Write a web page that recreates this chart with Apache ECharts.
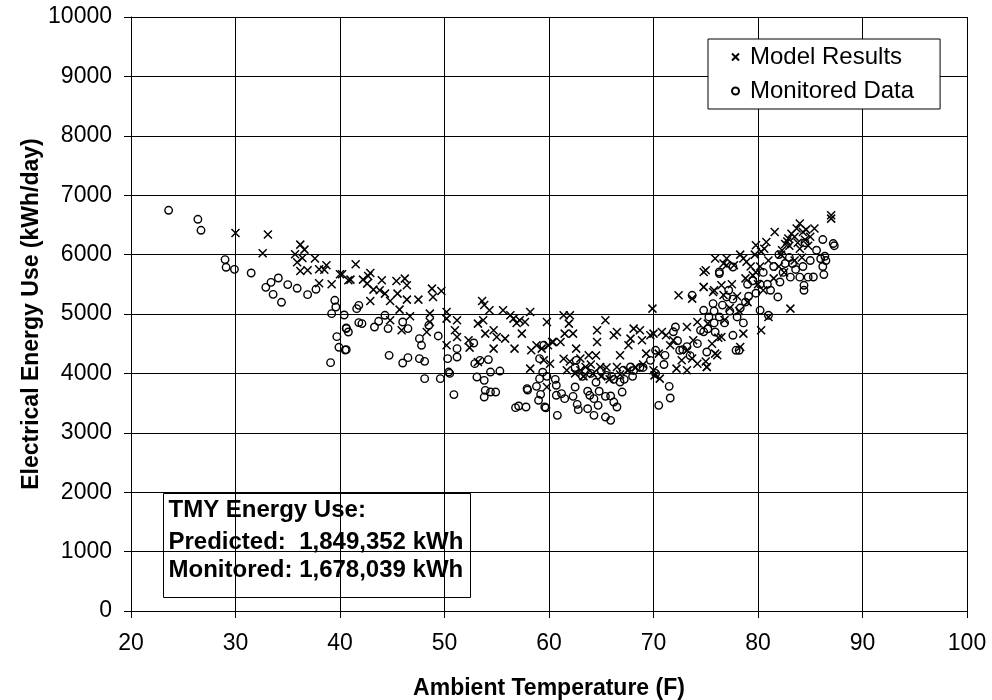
<!DOCTYPE html>
<html><head><meta charset="utf-8">
<script src="https://cdn.jsdelivr.net/npm/echarts@6/dist/echarts.min.js"></script>
<style>html,body{margin:0;padding:0;background:#fff;overflow:hidden}#c{width:992px;height:700px}</style>
</head><body><div id="c"></div>
<script>
var xTicks = [20,30,40,50,60,70,80,90,100];
var yTicks = [0,1000,2000,3000,4000,5000,6000,7000,8000,9000,10000];
var seriesNames = ['Model Results','Monitored Data'];
var noteLines = ['TMY Energy Use:','Predicted:  1,849,352 kWh','Monitored: 1,678,039 kWh'];

var modelResults = [
[30.0,6364],[33.1,6337],[32.6,6022],[36.2,6168],[36.6,6084],[35.7,6005],[36.4,5943],[35.9,5870],[37.6,5933],[36.2,5724],[36.9,5736],[38.0,5752],[38.7,5820],[38.5,5746],[38.0,5517],[39.2,5500],[40.0,5668],[40.8,5567],
[41.5,5837],[40.2,5668],[41.0,5579],[42.2,5579],[42.9,5690],[42.7,5640],[42.6,5511],[43.2,5410],[44.0,5567],[43.8,5399],[44.3,5343],[44.8,5219],[42.9,5219],[45.4,5556],[45.5,5343],[46.2,5596],[46.4,5483],[46.4,5242],[45.7,5074],[47.5,5242],[46.7,4961],[48.8,5427],[48.9,5286],[49.7,5387],[48.6,5006],[48.6,4865],[48.3,4697],[45.9,4725],[44.8,4894],[50.2,5034],[50.2,4922],[51.2,4894],[50.2,4473],[51.0,4725],[51.2,4612],[52.3,4557],[52.4,4434],[53.6,5219],[53.8,5150],[54.3,5062],[53.2,4838],[53.7,4894],[53.9,4670],[54.7,4725],[55.0,4612],[54.7,4417],[55.6,5062],[55.8,4585],[56.3,4978],[56.6,4922],[56.7,4417],[57.2,4894],[57.7,4865],[58.2,5034],[57.4,4670],[56.9,4850],[59.8,4865],[58.3,4389],[58.8,4473],[59.5,4220],[59.9,4473],[60.4,4529],[58.2,4080],[59.8,3771],[53.2,4192],
[61.4,4978],[62.0,4978],[61.9,4838],[61.5,4670],[62.3,4670],[61.1,4529],[60.3,4529],[59.3,4417],[62.6,4417],[61.4,4248],[60.1,4164],[61.7,4052],[63.0,4052],[63.8,4304],[64.6,4529],[64.6,4725],[65.4,4894],[64.9,4108],[64.2,3996],[63.5,4108],[66.2,4641],[66.5,4697],[67.6,4473],[67.8,4585],[68.1,4754],[66.8,4304],[66.5,4108],[68.7,4725],[69.9,5090],[68.9,4557],[69.7,4641],[70.0,4670],[70.8,4697],[71.2,4641],[69.3,4333],[70.1,3967],[70.6,3912],[70.0,4052],[70.5,4333],[71.6,4473],[71.9,4557],[72.4,5315],[73.7,5259],[74.8,5455],[74.8,5707],[75.7,5371],[76.5,5483],[77.0,5820],[72.2,4080],[72.7,4220],[73.2,4389],[73.8,4557],[74.2,4164],[75.1,4108],[76.1,4304],[76.5,4612],[73.2,4781],[74.2,4865],[75.2,4838],[73.2,4052],[73.7,4250],
[62.5,4000],[63.3,3950],[64.0,4150],[65.0,3950],[65.8,3900],[66.8,3980],[67.5,4050],[68.3,4100],[69.0,4150],[62.0,4200],[63.0,4250],[64.5,4300],[65.5,4100],
[87.0,6662],[87.0,6606],[85.4,6438],[84.0,6522],[83.7,6438],[83.2,6350],[82.9,6270],[82.6,6180],[82.3,6073],[82.8,6220],[83.5,6300],[84.3,6380],[84.6,6420],[83.0,6150],[82.2,6000],[81.6,6381],[80.8,6213],[79.8,6157],[80.3,6050],[80.6,6100],[79.7,6000],[78.6,5933],[78.3,6000],[78.9,5880],[77.0,5933],[75.9,5933],[76.7,5849],[75.0,5736],[77.7,5820],[79.3,5800],[83.1,5090],[81.0,4950],[80.3,4725],[78.6,4670],[78.3,4445],[74.8,5455],[75.8,5400],[76.7,5320],[75.9,4333],[75.6,4500],[76.2,4600],[75.0,4200],[75.1,4108],
[77.5,5500],[78.0,5300],[78.8,5600],[79.5,5650],[80.0,5500],[79.0,5200],[77.3,5100],[76.8,4900],[78.2,5050],[80.5,5400],[81.5,5600],[82.0,5800],[81.0,5900],[80.2,5800],[79.8,5700],[82.5,5700],[83.5,5900],[84.0,6100],[84.5,6250],[83.8,6200],[85.0,6300],[84.8,6150],[84.2,5950]
];

var monitoredData = [
[23.6,6746],[26.4,6594],[26.7,6409],[29.0,5916],[29.1,5786],[29.9,5752],[31.5,5690],[32.9,5449],[33.4,5533],[34.1,5606],[33.6,5331],[34.4,5197],[35.0,5495],[35.9,5433],[36.9,5326],[37.7,5416],[39.5,5231],[39.6,5118],[39.2,5006],[40.4,4983],[40.6,4764],[40.8,4697],[39.7,4619],[39.9,4439],[40.5,4394],[39.1,4181],
[41.6,5090],[41.8,5146],[40.6,4754],[41.8,4855],[42.1,4838],[43.3,4781],[43.7,4877],[44.3,4978],[44.6,4754],[46.0,4865],[46.5,4754],[40.6,4400],[44.7,4304],[46.0,4175],[46.5,4265],[47.6,4585],[47.8,4473],[47.6,4248],[48.1,4203],[48.5,4810],[49.4,4630],[48.1,3912],[49.6,3912],[50.3,4248],[50.4,4023],[50.5,4000],[51.2,4417],[51.2,4276],[50.9,3643],[52.8,4512],[52.9,4164],[53.4,4220],[54.2,4232],[54.4,4023],[55.3,4040],[53.1,3939],[53.8,3883],[53.9,3715],[53.8,3602],[54.4,3686],[54.9,3686],[56.8,3423],[57.1,3451],[57.8,3434],[57.9,3743],[57.95,3720],[58.8,3782],[59.1,3912],[59.1,4248],[59.2,3647],[59.0,3547],[59.6,3434],[59.7,3420],[60.7,3631],[60.8,3294],[60.7,3800],[60.6,3900],
[59.5,4473],[59.4,4020],[59.8,3950],[61.2,3659],[61.5,3575],[62.3,3614],[62.5,3771],[62.7,3479],[62.8,3390],[63.7,3406],[63.9,3631],[64.3,3575],[64.7,3462],[64.3,3294],[65.4,3265],[65.9,3210],[65.4,3614],[65.9,3620],[66.2,3518],[66.5,3434],[67.0,3686],[66.8,3855],[62.6,4220],[63.7,3700],[64.8,3700],[65.5,3967],[66.0,3950],[67.1,4052],[67.8,4108],[68.1,4050],[68.7,4100],[69.7,4220],[70.2,4389],[71.5,3782],[71.6,3586],[70.5,3462],[71.1,4304],[72.1,4781],[71.9,4700],[73.7,5315],[74.8,5062],[75.7,5175],[75.8,5050],[76.3,5680],[77.6,5791],[77.0,5287],[77.2,5400],[77.6,5250],[76.6,5150],[72.5,4389],[73.2,4450],[74.2,4501],[74.5,4725],[75.9,4697],[77.6,4641],[77.9,4389],[75.1,4360],[72.3,4550],[73.5,4300],[72.8,4400],
[62.5,4100],[63.2,3950],[64.0,4000],[65.0,4050],[66.2,3900],[67.2,3900],[68.0,3950],[69.0,4100],[70.2,4000],[71.0,4150],[63.5,4050],[64.5,3850],
[86.2,6253],[87.2,6186],[87.3,6150],[85.6,6073],[86.4,5972],[86.5,5900],[86.0,5930],[86.2,5800],[86.3,5664],[85.3,5623],[84.4,5483],[84.4,5399],[84.8,5620],[84.0,5620],[83.6,5750],[83.3,5850],[83.0,5950],[82.6,5850],[82.4,5700],[83.1,5620],[82.1,5539],[81.9,5287],[81.2,5400],[80.9,5500],[80.2,5500],[79.5,5560],[79.8,5350],[79.1,5300],[78.8,5200],[81.0,4978],[80.2,5062],[78.2,4389],[78.6,4850],[78.0,4950],[77.3,5050],[76.8,4850],[76.3,4950],[75.8,4850],[75.3,4950],[75.2,4750],[74.8,4700],[76.3,5707],[78.3,5100],[79.0,5500],[80.5,5700],[81.5,5800],[82.0,6000],[84.5,6200],[85.0,5900],[84.3,5800]
];

var FONT = '"Liberation Sans", Arial, sans-serif';
var chart = echarts.init(document.getElementById('c'), null, {renderer:'canvas'});
var crossPath = 'path://M0,0L10,10M10,0L0,10';
chart.setOption({
  animation: false,
  backgroundColor: '#fff',
  textStyle: {fontFamily: FONT, color: '#000'},
  grid: {left: 131, right: 25, top: 17, bottom: 89, containLabel: false, outerBoundsMode: 'none'},
  xAxis: {
    type: 'value', min: xTicks[0], max: xTicks[xTicks.length-1], interval: 10,
    name: 'Ambient Temperature (F)', nameLocation: 'middle', nameGap: 67, nameMoveOverlap: false,
    nameTextStyle: {fontFamily: FONT, fontSize: 23, fontWeight: 'bold', color: '#000', lineHeight: 22},
    axisLine: {show: true, lineStyle: {color: '#000', width: 1}},
    axisTick: {show: true, inside: false, length: 7, lineStyle: {color: '#000'}},
    axisLabel: {fontFamily: FONT, fontSize: 23, color: '#000', margin: 21, formatter: function(v){ return String(v); }},
    splitLine: {show: true, lineStyle: {color: '#000', width: 1}}
  },
  yAxis: {
    type: 'value', min: yTicks[0], max: yTicks[yTicks.length-1], interval: 1000,
    name: 'Electrical Energy Use (kWh/day)', nameLocation: 'middle', nameGap: 86, nameRotate: 90, nameMoveOverlap: false,
    nameTextStyle: {fontFamily: FONT, fontSize: 23, fontWeight: 'bold', color: '#000', lineHeight: 26},
    axisLine: {show: true, lineStyle: {color: '#000', width: 1}},
    axisTick: {show: true, inside: false, length: 7, lineStyle: {color: '#000'}},
    axisLabel: {fontFamily: FONT, fontSize: 23, color: '#000', margin: 19, formatter: function(v){ return String(v); }},
    splitLine: {show: true, lineStyle: {color: '#000', width: 1}}
  },
  legend: {
    orient: 'vertical', left: 708, top: 39,
    padding: [4, 26, 4, 23],
    itemGap: 6, itemWidth: 7, itemHeight: 7,
    backgroundColor: '#fff', borderColor: '#000', borderWidth: 1, borderRadius: 0,
    textStyle: {fontFamily: FONT, fontSize: 24, color: '#000', lineHeight: 28, padding: [0,0,0,6]},
    data: [
      {name: seriesNames[0], icon: crossPath},
      {name: seriesNames[1], icon: 'circle'}
    ]
  },
  series: [
    {
      name: seriesNames[0], type: 'scatter', data: modelResults,
      symbol: crossPath, symbolSize: 8,
      itemStyle: {color: 'transparent', borderColor: '#000', borderWidth: 1.5, opacity: 1},
      emphasis: {disabled: true}, z: 3
    },
    {
      name: seriesNames[1], type: 'scatter', data: monitoredData,
      symbol: 'circle', symbolSize: 7.5,
      itemStyle: {color: 'transparent', borderColor: '#000', borderWidth: 1.4, opacity: 1},
      emphasis: {disabled: true}, z: 3
    }
  ],
  graphic: [
    {
      type: 'group', left: 163, top: 493, z: 100,
      children: [
        {type: 'rect', shape: {x: 0, y: 0, width: 307, height: 104}, style: {fill: '#fff', stroke: '#000', lineWidth: 1}},
        {type: 'text', x: 5, y: 17, style: {text: noteLines[0], font: 'bold 24px ' + FONT, fill: '#000', textVerticalAlign: 'middle'}},
        {type: 'text', x: 5, y: 49, style: {text: noteLines[1], font: 'bold 24px ' + FONT, fill: '#000', textVerticalAlign: 'middle'}},
        {type: 'text', x: 5, y: 77, style: {text: noteLines[2], font: 'bold 24px ' + FONT, fill: '#000', textVerticalAlign: 'middle'}}
      ]
    }
  ]
});
</script>
</body></html>
